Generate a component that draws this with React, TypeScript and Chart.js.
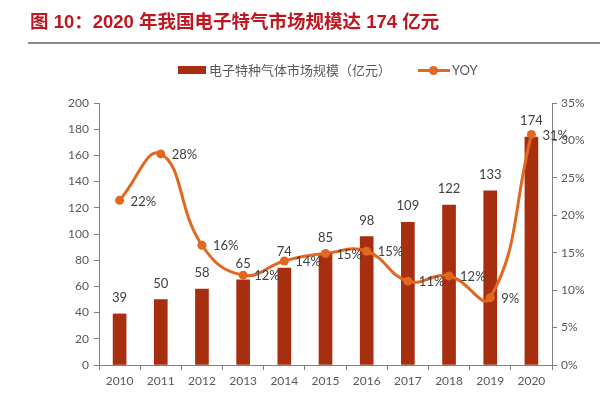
import React, { useEffect, useRef } from "react";
import { Chart, registerables } from "chart.js";

Chart.register(...registerables);

const years = ["2010", "2011", "2012", "2013", "2014", "2015", "2016", "2017", "2018", "2019", "2020"];
const marketSize = [39, 50, 58, 65, 74, 85, 98, 109, 122, 133, 174];
const yoyPct = [22, 28.2, 16, 12, 13.9, 14.9, 15.2, 11.2, 11.9, 9, 30.8];
const titleText = "图 10：2020 年我国电子特气市场规模达 174 亿元";
const barLabel = "电子特种气体市场规模（亿元）";
const lineLabel = "YOY";

const BAR_COLOR = "#A82E10";
const LINE_COLOR = "#E2681F";
const AXIS_COLOR = "#808080";
const TICK_COLOR = "#595959";
const FONT = "Lato, 'Liberation Sans', sans-serif";

const labelPlugin = {
  id: "valueLabels",
  afterDatasetsDraw(chart: any) {
    const ctx = chart.ctx;
    ctx.save();
    ctx.font = `13px ${FONT}`;
    ctx.fillStyle = "#404040";
    ctx.textBaseline = "middle";
    const barMeta = chart.getDatasetMeta(0);
    ctx.textAlign = "center";
    barMeta.data.forEach((el: any, i: number) => {
      ctx.fillText(String(marketSize[i]), el.x, el.y - 16);
    });
    const lineMeta = chart.getDatasetMeta(1);
    ctx.textAlign = "left";
    lineMeta.data.forEach((el: any, i: number) => {
      ctx.fillText(Math.round(yoyPct[i]) + "%", el.x + 11, el.y + 1);
    });
    ctx.restore();
  },
};

export default function App() {
  const canvasRef = useRef<HTMLCanvasElement | null>(null);

  useEffect(() => {
    document.body.style.margin = "0";
    const canvas = canvasRef.current;
    if (!canvas) return;
    const chart = new Chart(canvas, {
      type: "bar",
      data: {
        labels: years,
        datasets: [
          {
            type: "bar",
            label: barLabel,
            data: marketSize,
            backgroundColor: BAR_COLOR,
            barThickness: 13,
            yAxisID: "y",
            order: 1,
          },
          {
            type: "line",
            label: lineLabel,
            data: yoyPct,
            borderColor: LINE_COLOR,
            backgroundColor: LINE_COLOR,
            borderWidth: 3,
            pointRadius: 4.5,
            pointBackgroundColor: LINE_COLOR,
            pointBorderWidth: 0,
            tension: 0.45,
            yAxisID: "y1",
            order: 0,
          },
        ] as any,
      },
      options: {
        animation: false,
        responsive: false,
        maintainAspectRatio: false,
        layout: { padding: { top: 103, left: 0, right: 0, bottom: 0 } },
        plugins: {
          legend: { display: false },
          tooltip: { enabled: false },
        },
        scales: {
          x: {
            offset: true,
            grid: {
              offset: true,
              drawOnChartArea: false,
              drawTicks: true,
              tickLength: 5,
              color: AXIS_COLOR,
            },
            border: { color: AXIS_COLOR, width: 1 },
            ticks: { color: TICK_COLOR, font: { size: 12, family: FONT }, padding: 4, maxRotation: 0 },
            afterFit: (s: any) => {
              s.height = 35;
            },
          },
          y: {
            position: "left",
            min: 0,
            max: 200,
            grid: { drawOnChartArea: false, drawTicks: true, tickLength: 5, color: AXIS_COLOR },
            border: { color: AXIS_COLOR, width: 1 },
            ticks: { stepSize: 20, color: TICK_COLOR, font: { size: 12, family: FONT }, padding: 5 },
            afterFit: (s: any) => {
              s.width = 99;
            },
          },
          y1: {
            position: "right",
            min: 0,
            max: 35,
            grid: { drawOnChartArea: false, drawTicks: true, tickLength: 5, color: AXIS_COLOR },
            border: { color: AXIS_COLOR, width: 1 },
            ticks: {
              stepSize: 5,
              color: TICK_COLOR,
              font: { size: 12, family: FONT },
              padding: 4,
              callback: (v: any) => v + "%",
            },
            afterFit: (s: any) => {
              s.width = 48;
            },
          },
        },
      } as any,
      plugins: [labelPlugin],
    });
    return () => chart.destroy();
  }, []);

  return (
    <div style={{ position: "relative", width: 600, height: 400, background: "#fff", overflow: "hidden" }}>
      <canvas ref={canvasRef} width={600} height={400} style={{ position: "absolute", left: 0, top: 0, width: 600, height: 400 }} />
      <div
        style={{
          position: "absolute",
          left: 30,
          top: 9,
          fontFamily: "'Liberation Sans', 'Noto Sans CJK SC', sans-serif",
          fontWeight: "bold",
          fontSize: 18.5,
          lineHeight: "26px",
          color: "#C0161F",
          whiteSpace: "nowrap",
        }}
      >
        {titleText}
      </div>
      <div style={{ position: "absolute", left: 28, right: 0, top: 42, height: 2, background: "#8c8c8c" }} />
      <div
        style={{
          position: "absolute",
          left: 0,
          top: 60,
          width: 600,
          height: 20,
          fontFamily: "'Noto Sans CJK SC', sans-serif",
          fontSize: 13,
          color: "#595959",
          whiteSpace: "nowrap",
        }}
      >
        <div style={{ position: "absolute", left: 178, top: 6, width: 28, height: 8, background: BAR_COLOR }} />
        <div style={{ position: "absolute", left: 209, top: 0, lineHeight: "20px" }}>{barLabel}</div>
        <div style={{ position: "absolute", left: 418, top: 9, width: 32, height: 3, background: LINE_COLOR }} />
        <div style={{ position: "absolute", left: 429, top: 6, width: 9, height: 9, borderRadius: 5, background: LINE_COLOR }} />
        <div style={{ position: "absolute", left: 452, top: 0, lineHeight: "20px", fontFamily: FONT }}>{lineLabel}</div>
      </div>
    </div>
  );
}
